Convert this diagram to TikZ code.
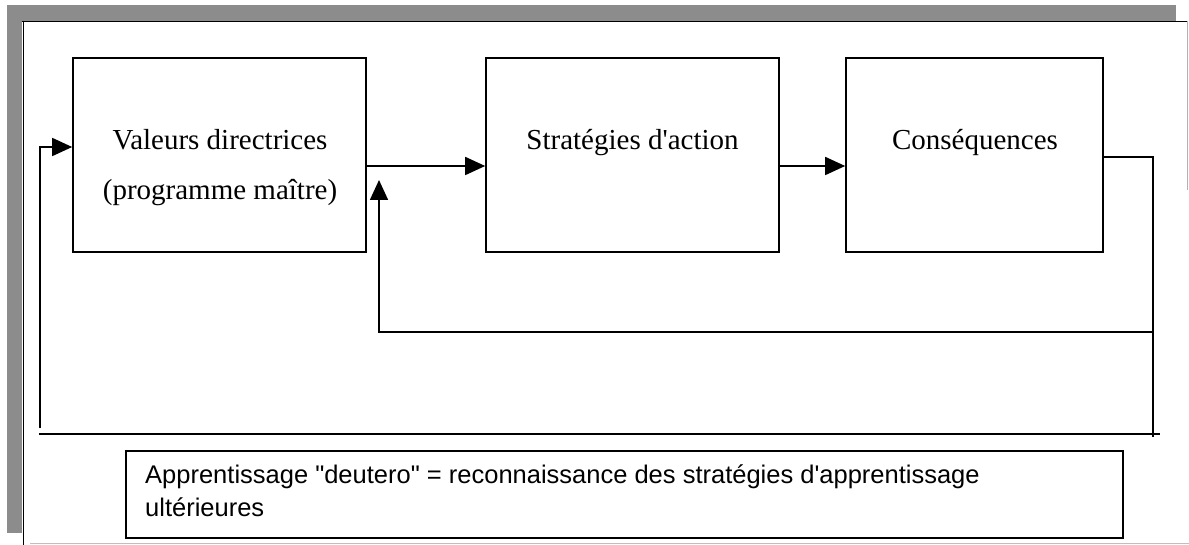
\documentclass[tikz,border=0pt]{standalone}
\usepackage{fontspec}
\setmainfont{Liberation Serif}
\setsansfont{Liberation Sans}
\usetikzlibrary{arrows.meta}
\begin{document}
\begin{tikzpicture}[x=1pt,y=-1pt,
  box/.style={draw=black,line width=1.6pt,minimum width=#1,minimum height=194pt,inner sep=0pt},
  lbl/.style={font=\fontsize{29}{34}\selectfont,anchor=base,inner sep=0pt},
  sans/.style={font=\sffamily\fontsize{25.5}{33}\selectfont,anchor=base west,inner sep=0pt},
  conn/.style={draw=black,line width=1.6pt},
  arr/.style={conn,-{Triangle[length=20pt,width=18pt]}},
  band/.style={fill=black!45,draw=none}
]
\useasboundingbox (0,0) rectangle (1189,545);
% scanned grey band
\fill[band] (7,5) rectangle (1176,21);
\fill[band] (7,5) rectangle (22,533);
% frame lines
\draw[line width=1.8pt] (22,21.5) -- (1187,21.5);
\draw[line width=1.8pt] (23.5,21) -- (23.5,545);
\draw[line width=0.6pt,gray!60] (1187,21) -- (1187,190);
\draw[line width=0.8pt,gray!50] (30,543) -- (1189,543);

% boxes
\node[box=293pt] (b1) at (219.5,155) {};
\node[box=293pt] (b2) at (632.5,155) {};
\node[box=257pt] (b3) at (974.5,155) {};
\node[draw=black,line width=1.6pt,minimum width=997pt,minimum height=87pt,inner sep=0pt] (b4) at (624.5,494.5) {};

% box texts
\node[lbl] (t1a) at (220,150) {Valeurs directrices};
\node[lbl] (t1b) at (220,200) {(programme maître)};
\node[lbl] (t2) at (632.5,150) {Stratégies d\textquotesingle action};
\node[lbl] (t3) at (975,150) {Conséquences};
\node[sans] (t4a) at (145,483) {Apprentissage \textquotedbl deutero\textquotedbl{} = reconnaissance des stratégies d\textquotesingle apprentissage};
\node[sans] (t4b) at (145,516) {ultérieures};

% coordinates of the loops
\coordinate (r1) at (1153,157);
\coordinate (r2) at (1153,437);
\coordinate (ri) at (1153,332);
\coordinate (li) at (379,332);
\coordinate (lt) at (379,180);
\coordinate (ob) at (40,428);
\coordinate (ot) at (40,147);
\coordinate (hl) at (39,434);
\coordinate (hr) at (1160,434);

% forward arrows
\draw[arr] ([yshift=-11pt]b1.east) -- ([yshift=-11pt]b2.west);
\draw[arr] ([yshift=-11pt]b2.east) -- ([yshift=-11pt]b3.west);
% exit from Conséquences
\draw[conn] (b3.east |- r1) -- (r1) -- (r2);
% inner feedback
\draw[arr] (ri) -- (li) -- (lt);
% outer feedback
\draw[conn] (hl) -- (hr);
\draw[arr] (ob) -- (ot) -- (b1.west |- ot);
\end{tikzpicture}
\end{document}
